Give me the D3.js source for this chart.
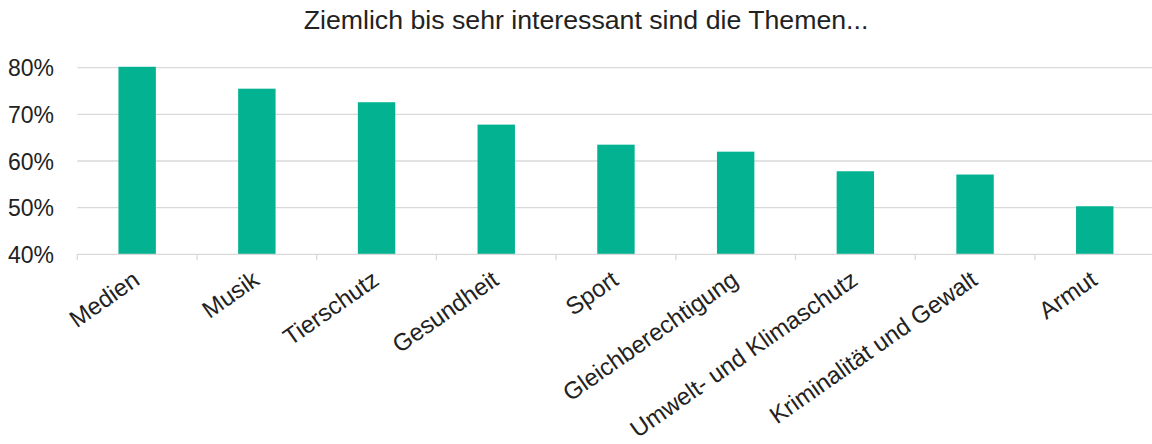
<!DOCTYPE html>
<html>
<head>
<meta charset="utf-8">
<script src="https://cdn.jsdelivr.net/npm/d3@7"></script>
<style>
  body { margin: 0; background: #fff; }
  svg { display: block; font-family: "Liberation Sans", Arial, sans-serif; }
  .axis text { fill: #222; }
</style>
</head>
<body>
<div class="chart"></div>
<script>
// Topics and share of "ziemlich bis sehr interessant" (in %)
var topics = ["Medien", "Musik", "Tierschutz", "Gesundheit", "Sport",
  "Gleichberechtigung", "Umwelt- und Klimaschutz", "Kriminalität und Gewalt", "Armut"];
var shares = [80.2, 75.5, 72.6, 67.8, 63.5, 62.0, 57.8, 57.1, 50.3];
var yTicks = [40, 50, 60, 70, 80];
var title = "Ziemlich bis sehr interessant sind die Themen...";

var width = 1152, height = 444;
var margin = { top: 67.7, left: 77.3, right: -2.6, bottom: 189.7 };

var svg = d3.select(".chart").append("svg")
    .attr("width", width)
    .attr("height", height);

svg.append("text")
    .attr("x", 586)
    .attr("y", 29)
    .attr("text-anchor", "middle")
    .attr("fill", "#222")
    .style("font-size", "26.7px")
    .text(title);

var x = d3.scaleBand()
    .domain(topics)
    .range([margin.left, width - margin.right])
    .paddingInner(0)
    .paddingOuter(0);

var y = d3.scaleLinear()
    .domain([40, 80])
    .range([height - margin.bottom, margin.top]);

// gridlines
svg.append("g")
    .selectAll("line")
    .data(yTicks.slice(1))
    .join("line")
    .attr("x1", margin.left)
    .attr("x2", width)
    .attr("y1", function(d) { return y(d); })
    .attr("y2", function(d) { return y(d); })
    .attr("stroke", "#d9d9d9")
    .attr("stroke-width", 1.3);

// bars
var barW = 37.4;
svg.append("g")
    .selectAll("rect")
    .data(topics)
    .join("rect")
    .attr("x", function(d) { return x(d) + x.bandwidth() / 2 - barW / 2; })
    .attr("width", barW)
    .attr("y", function(d, i) { return y(shares[i]); })
    .attr("height", function(d, i) { return y(40) - y(shares[i]); })
    .attr("fill", "#02B290");

// y axis labels
var yAxis = d3.axisLeft(y)
    .tickValues(yTicks)
    .tickSize(0)
    .tickPadding(0)
    .tickFormat(function(d) { return d + "%"; });
var yAxisEl = svg.append("g")
    .attr("class", "axis")
    .attr("transform", "translate(54," + 0 + ")")
    .call(yAxis);
yAxisEl.select(".domain").remove();
yAxisEl.selectAll("text")
    .style("font-size", "23px")
    .attr("dy", "0.35em");

// x axis: baseline and ticks at band edges
var base = y(40);
svg.append("line")
    .attr("x1", margin.left)
    .attr("x2", width)
    .attr("y1", base)
    .attr("y2", base)
    .attr("stroke", "#d9d9d9")
    .attr("stroke-width", 1.3);
svg.append("g")
    .selectAll("line")
    .data(topics)
    .join("line")
    .attr("x1", function(d) { return x(d); })
    .attr("x2", function(d) { return x(d); })
    .attr("y1", base)
    .attr("y2", base + 6)
    .attr("stroke", "#d9d9d9")
    .attr("stroke-width", 1.3);

// rotated category labels
svg.append("g")
    .attr("class", "axis")
    .selectAll("text")
    .data(topics)
    .join("text")
    .attr("transform", function(d) {
      return "translate(" + (x(d) + x.bandwidth() / 2 + 4) + "," + (base + 29) + ") rotate(-35)";
    })
    .attr("text-anchor", "end")
    .style("font-size", "24px")
    .text(function(d) { return d; });
</script>
</body>
</html>
